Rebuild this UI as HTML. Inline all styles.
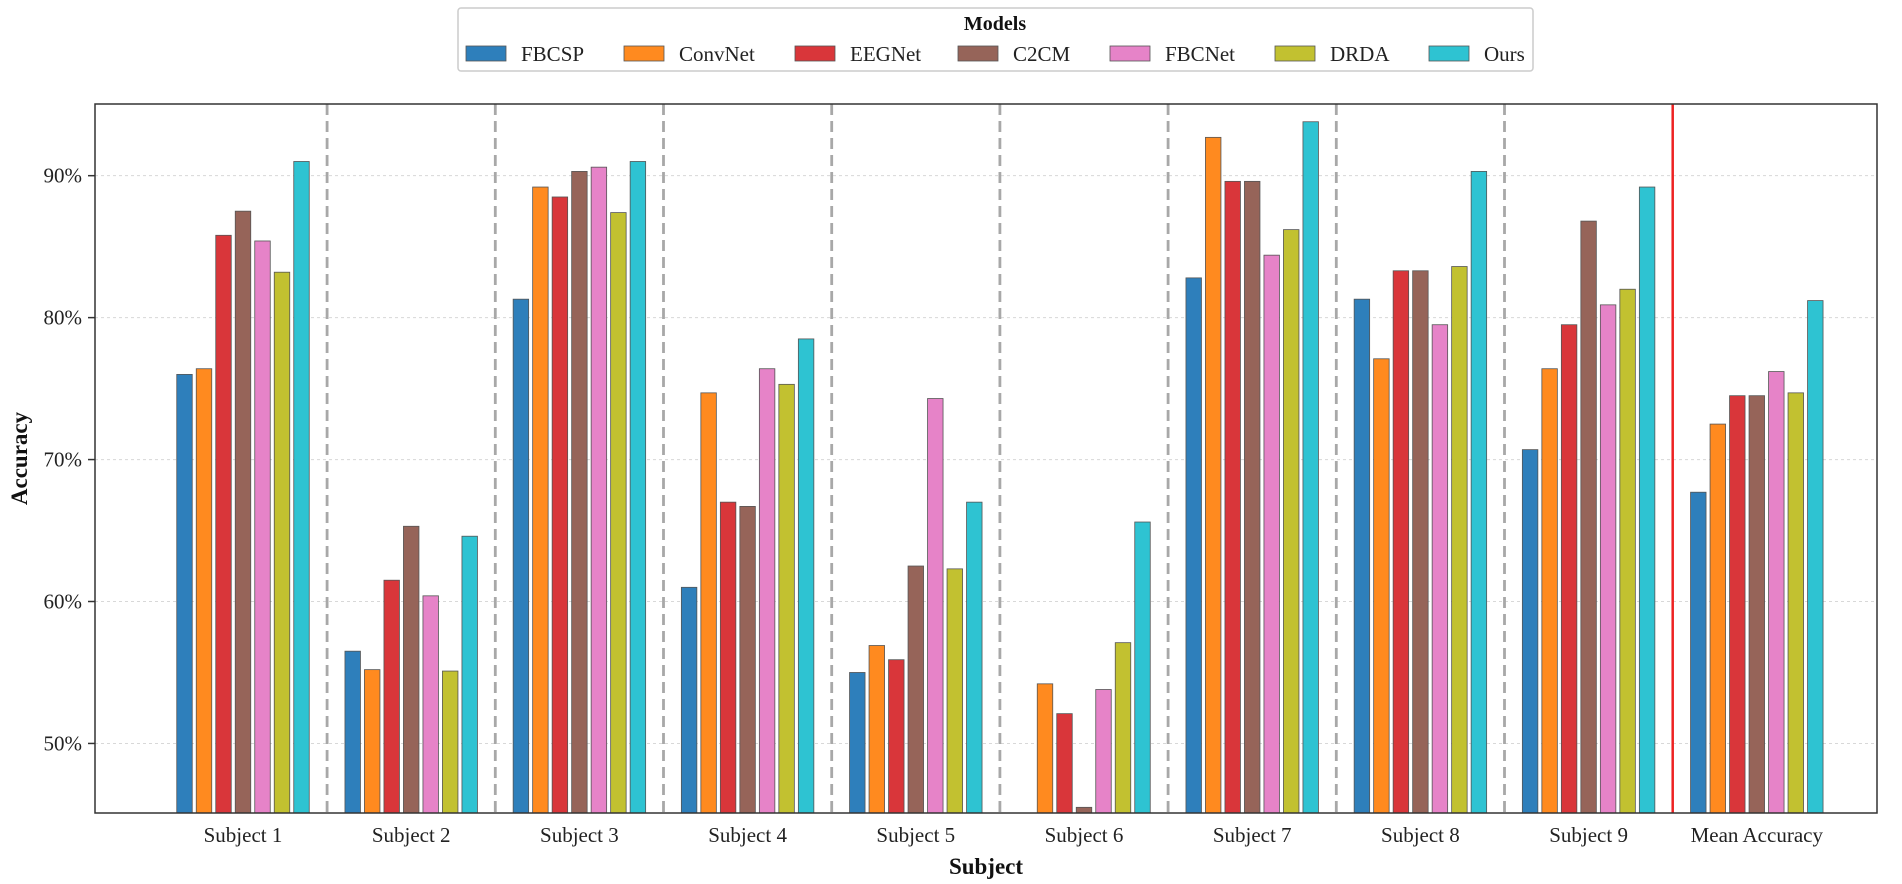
<!DOCTYPE html>
<html><head><meta charset="utf-8"><style>
html,body{margin:0;padding:0;background:#fff;}
svg{display:block;font-family:"Liberation Serif",serif;}
</style></head><body>
<svg id="chart" width="1902" height="884" xmlns="http://www.w3.org/2000/svg">
<g id="grid"></g><g id="seps"></g><g id="bars"></g><g id="axes"></g><g id="legend"></g>
</svg>
<script>
const categories=["Subject 1","Subject 2","Subject 3","Subject 4","Subject 5","Subject 6","Subject 7","Subject 8","Subject 9","Mean Accuracy"];
const models=["FBCSP","ConvNet","EEGNet","C2CM","FBCNet","DRDA","Ours"];
const colors=["#2e7fbb","#ff8a1f","#d9363a","#966459","#e683c8","#c2c130","#2ec3d2"];
const fbcsp=[76.0,56.5,81.3,61.0,55.0,45.1,82.8,81.3,70.7,67.7];
const convnet=[76.4,55.2,89.2,74.7,56.9,54.2,92.7,77.1,76.4,72.5];
const eegnet=[85.8,61.5,88.5,67.0,55.9,52.1,89.6,83.3,79.5,74.5];
const c2cm=[87.5,65.3,90.3,66.7,62.5,45.5,89.6,83.3,86.8,74.5];
const fbcnet=[85.4,60.4,90.6,76.4,74.3,53.8,84.4,79.5,80.9,76.2];
const drda=[83.2,55.1,87.4,75.3,62.3,57.1,86.2,83.6,82.0,74.7];
const ours=[91.0,64.6,91.0,78.5,67.0,65.6,93.8,90.3,89.2,81.2];
const series=[fbcsp,convnet,eegnet,c2cm,fbcnet,drda,ours];
const yTicks=[50,60,70,80,90];
const yTickLabels=["50%","60%","70%","80%","90%"];

const NS="http://www.w3.org/2000/svg";
const L=95,R=1877,T=104,B=813;
const yMin=45.1,yMax=95.05;
function y(v){return B-(v-yMin)/(yMax-yMin)*(B-T);}
const x0=243,dx=168.2;
function xc(i){return x0+i*dx;}
const bw=15.5,step=19.5;
function mk(tag,attrs,parent){const e=document.createElementNS(NS,tag);for(const k in attrs)e.setAttribute(k,attrs[k]);parent.appendChild(e);return e;}
const grid=document.getElementById('grid'),seps=document.getElementById('seps'),bars=document.getElementById('bars'),axes=document.getElementById('axes'),leg=document.getElementById('legend');

yTicks.forEach((t,i)=>{
  const g=mk('line',{x1:L,x2:R,y1:y(t),y2:y(t),stroke:'#d8d8d8','stroke-width':1,'stroke-dasharray':'3 3'},grid);
  
  
  const tk=mk('line',{x1:L-7,x2:L,y1:y(t),y2:y(t),stroke:'#333','stroke-width':1.5},axes);
  
  
  const tx=mk('text',{x:L-13,y:y(t)+7,'text-anchor':'end','font-size':21,fill:'#222'},axes);
  tx.textContent=yTickLabels[i];
  
  
});

for(let i=0;i<categories.length-1;i++){
  const sx=(xc(i)+xc(i+1))/2;
  const red=i===categories.length-2;
  const s=mk('line',{x1:sx,x2:sx,y1:T,y2:B,stroke:red?'#ee2222':'#a8a8a8','stroke-width':red?2.5:2.8,'stroke-dasharray':red?'none':'11 6'},seps);
  
  
}

categories.forEach((c,i)=>{
  series.forEach((arr,j)=>{
    const bx=xc(i)-3*step-bw/2+j*step;
    const top=y(arr[i]);
    const r=mk('rect',{x:bx,y:top,width:bw,height:Math.max(0,B-top),fill:colors[j],stroke:'#555','stroke-width':0.8},bars);
    
    
  });
  const t=mk('text',{x:xc(i),y:842,'text-anchor':'middle','font-size':21,fill:'#222'},axes);
  t.textContent=c;
  
  
});

const frame=mk('rect',{x:L,y:T,width:R-L,height:B-T,fill:'none',stroke:'#333','stroke-width':1.5},axes);


const xt=mk('text',{x:(L+R)/2,y:874,'text-anchor':'middle','font-size':23,'font-weight':'bold',fill:'#111'},axes);
xt.textContent='Subject';


const yt=mk('text',{x:0,y:0,'text-anchor':'middle','font-size':23,'font-weight':'bold',fill:'#111',transform:'translate(27,'+((T+B)/2)+') rotate(-90)'},axes);
yt.textContent='Accuracy';



const lb=mk('rect',{x:458,y:8,width:1075,height:63,rx:3,fill:'#fff',stroke:'#ccc','stroke-width':1.5},leg);


const lt=mk('text',{x:995,y:30,'text-anchor':'middle','font-size':20,'font-weight':'bold',fill:'#111'},leg);
lt.textContent='Models';


const legendX=[466,624,795,958,1110,1275,1429];
models.forEach((m,j)=>{
  const lx=legendX[j];
  const p=mk('rect',{x:lx,y:46,width:40,height:15,fill:colors[j],stroke:'#555','stroke-width':0.8},leg);
  
  
  const t=mk('text',{x:lx+55,y:61,'font-size':21,fill:'#222'},leg);
  t.textContent=m;
  
  
});
</script>
</body></html>
